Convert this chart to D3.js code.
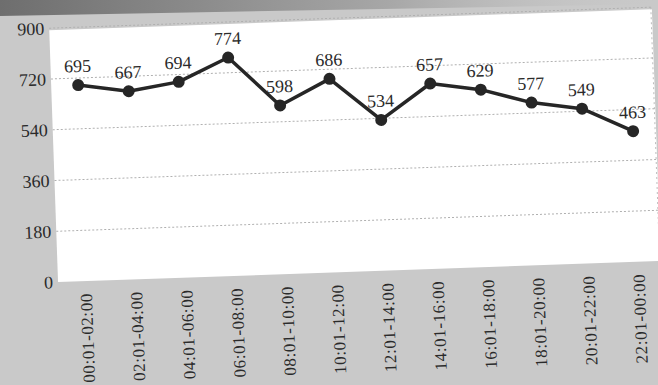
<!DOCTYPE html>
<html>
<head>
<meta charset="utf-8">
<script src="https://cdn.jsdelivr.net/npm/d3@7"></script>
<style>
  html, body { margin: 0; padding: 0; background: #c6c6c6; }
  svg { display: block; }
  text { font-family: "Liberation Serif", "DejaVu Serif", serif; fill: #2a2a2a; }
</style>
</head>
<body>
<div id="chart"></div>
<script>
const categories = ["00:01-02:00","02:01-04:00","04:01-06:00","06:01-08:00","08:01-10:00","10:01-12:00",
                    "12:01-14:00","14:01-16:00","16:01-18:00","18:01-20:00","20:01-22:00","22:01-00:00"];
const values = [695, 667, 694, 774, 598, 686, 534, 657, 629, 577, 549, 463];
const yTicks = [0, 180, 360, 540, 720, 900];

const W = 658, H = 385;
const svg = d3.select("#chart").append("svg").attr("width", W).attr("height", H);

const defs = svg.append("defs");
const grad = defs.append("linearGradient").attr("id", "topShade").attr("x1", 0).attr("y1", 0).attr("x2", 1).attr("y2", 0);
grad.append("stop").attr("offset", "0%").attr("stop-color", "#6e6e6e");
grad.append("stop").attr("offset", "60%").attr("stop-color", "#a8a8a8");
grad.append("stop").attr("offset", "100%").attr("stop-color", "#c6c6c6").attr("stop-opacity", 0);

svg.append("rect").attr("width", W).attr("height", H).attr("fill", "#c9c9c9");
svg.append("path").attr("d", "M0,0 L658,0 L658,4 L0,16 Z").attr("fill", "url(#topShade)");

const g = svg.append("g").attr("transform", "rotate(-2,330,190)");

const x = d3.scalePoint().domain(categories).range([82, 635]);
const y = d3.scaleLinear().domain([0, 900]).range([272.5, 18.5]);

// plot area
g.append("rect").attr("x", 55).attr("y", y(900) + 2).attr("width", 603)
  .attr("height", y(0) - y(900) - 2).attr("fill", "#ffffff");
g.append("line").attr("x1", 657).attr("x2", 657).attr("y1", y(900)).attr("y2", y(0))
  .attr("stroke", "#bdbdbd").attr("stroke-dasharray", "2,3");

// gridlines
g.append("g").selectAll("line").data(yTicks.filter(d => d > 0)).join("line")
  .attr("x1", 55).attr("x2", 658).attr("y1", d => y(d)).attr("y2", d => y(d))
  .attr("stroke", "#b0b0b0").attr("stroke-width", 1).attr("stroke-dasharray", "2,2");

// y axis labels
const yAxis = d3.axisLeft(y).tickValues(yTicks).tickSize(0).tickPadding(6);
const ya = g.append("g").attr("transform", "translate(50,0)").call(yAxis);
ya.select(".domain").remove();
ya.selectAll("text").style("font-family", '"Liberation Serif", serif').style("font-size", "18px")
  .attr("fill", "#2e2e2e").attr("x", 0);

// x axis labels
const xAxis = d3.axisBottom(x).tickSize(0);
const xa = g.append("g").attr("transform", `translate(0,${y(0) + 12})`).call(xAxis);
xa.select(".domain").remove();
xa.selectAll("text").style("font-family", '"Liberation Serif", serif').style("font-size", "17px")
  .style("letter-spacing", "0.6px")
  .attr("fill", "#2e2e2e")
  .attr("text-anchor", "end").attr("transform", "rotate(-90)").attr("x", 0).attr("y", 0).attr("dy", "0.35em");

// line
const line = d3.line().x((d, i) => x(categories[i])).y(d => y(d));
g.append("path").datum(values).attr("d", line).attr("fill", "none")
  .attr("stroke", "#262626").attr("stroke-width", 3.5).attr("stroke-linejoin", "round");

g.append("g").selectAll("circle").data(values).join("circle")
  .attr("cx", (d, i) => x(categories[i])).attr("cy", d => y(d)).attr("r", 6)
  .attr("fill", "#262626");

g.append("g").selectAll("text").data(values).join("text")
  .attr("x", (d, i) => x(categories[i])).attr("y", d => y(d) - 13)
  .attr("text-anchor", "middle").style("font-size", "18px").attr("fill", "#2e2e2e").text(d => d);
</script>
</body>
</html>
